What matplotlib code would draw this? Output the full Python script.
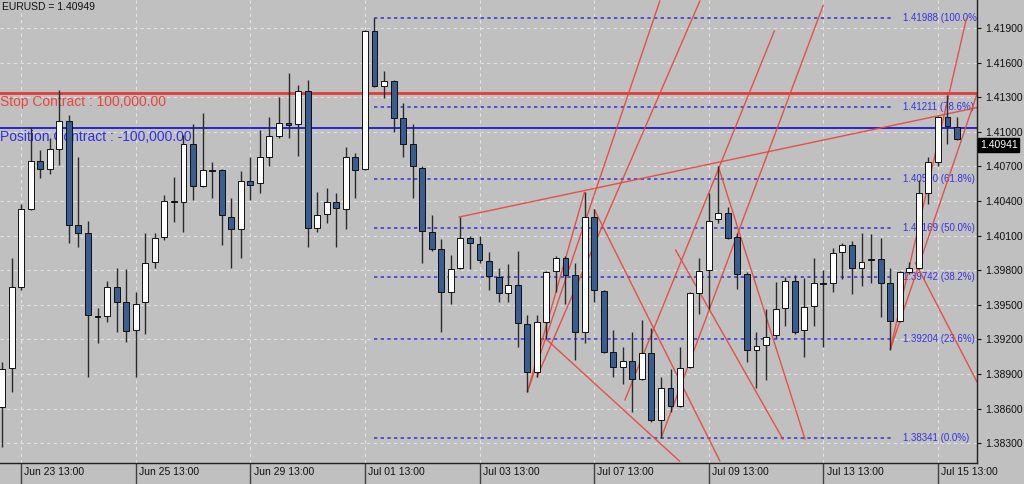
import numpy as np
import matplotlib
matplotlib.use('Agg')
import matplotlib.pyplot as plt
from matplotlib import transforms

plt.rcParams['font.family'] = ['Liberation Sans', 'DejaVu Sans']

# H4 candles (open, high, low, close)
opens = [1.3861, 1.3895, 1.3965, 1.4033, 1.4075, 1.4068, 1.4085, 1.4109, 1.4019, 1.4012,
         1.3940, 1.3940, 1.3965, 1.3952, 1.3928, 1.3952, 1.3987, 1.4009, 1.4040, 1.4039,
         1.4089, 1.4053, 1.4067, 1.4067, 1.4026, 1.4016, 1.4057, 1.4056, 1.4078, 1.4096,
         1.4108, 1.4107, 1.4135, 1.4017, 1.4029, 1.4039, 1.4033, 1.4078, 1.4068, 1.4187,
         1.4140, 1.4144, 1.4112, 1.4089, 1.4069, 1.4013, 1.3998, 1.3961, 1.3982, 1.4008,
         1.4003, 1.3988, 1.3974, 1.3960, 1.3967, 1.3933, 1.3892, 1.3935, 1.3979, 1.3991,
         1.3976, 1.3926, 1.4026, 1.3962, 1.3909, 1.3896, 1.3901, 1.3886, 1.3908, 1.3850,
         1.3878, 1.3862, 1.3896, 1.3960, 1.3980, 1.4024, 1.4030, 1.4009, 1.3977, 1.3911,
         1.3915, 1.3924, 1.3947, 1.3971, 1.3928, 1.3949, 1.3968, 1.3969, 1.3996, 1.4002,
         1.3982, 1.3990, 1.3990, 1.3969, 1.3936, 1.3978, 1.3982, 1.4047, 1.4074, 1.4113,
         1.4104]
highs = [1.3900, 1.3991, 1.4037, 1.4104, 1.4084, 1.4095, 1.4136, 1.4115, 1.4078, 1.4023,
         1.3947, 1.3971, 1.3982, 1.3981, 1.3961, 1.4012, 1.4012, 1.4045, 1.4061, 1.4097,
         1.4107, 1.4116, 1.4074, 1.4068, 1.4043, 1.4066, 1.4078, 1.4102, 1.4113, 1.4130,
         1.4151, 1.4141, 1.4145, 1.4048, 1.4051, 1.4047, 1.4087, 1.4082, 1.4188, 1.41988,
         1.4153, 1.4145, 1.4125, 1.4107, 1.4070, 1.4028, 1.4007, 1.3993, 1.4026, 1.4010,
         1.4010, 1.3996, 1.3982, 1.3985, 1.3997, 1.3941, 1.3941, 1.3979, 1.3992, 1.3992,
         1.3986, 1.4048, 1.4033, 1.3963, 1.3928, 1.3913, 1.3926, 1.3937, 1.3930, 1.3887,
         1.3894, 1.3913, 1.3961, 1.3991, 1.4047, 1.4070, 1.4035, 1.4012, 1.3978, 1.3926,
         1.3946, 1.3970, 1.3974, 1.3976, 1.3973, 1.3991, 1.3980, 1.3999, 1.4004, 1.4005,
         1.4012, 1.4011, 1.4008, 1.3982, 1.3979, 1.3987, 1.4058, 1.4078, 1.4114, 1.4132,
         1.4113]
lows = [1.3827, 1.3874, 1.3963, 1.4032, 1.4060, 1.4063, 1.4071, 1.4004, 1.4000, 1.3887,
        1.3917, 1.3935, 1.3926, 1.3918, 1.3887, 1.3925, 1.3982, 1.4006, 1.4022, 1.4013,
        1.4041, 1.4052, 1.4043, 1.4002, 1.3982, 1.3991, 1.4041, 1.4047, 1.4070, 1.4095,
        1.4095, 1.4079, 1.4000, 1.4013, 1.4021, 1.4000, 1.4016, 1.4043, 1.4067, 1.4139,
        1.4129, 1.4100, 1.4078, 1.4043, 1.3986, 1.3997, 1.3926, 1.3951, 1.3981, 1.3981,
        1.3986, 1.3963, 1.3952, 1.3952, 1.3913, 1.3874, 1.3887, 1.3920, 1.3961, 1.3951,
        1.3902, 1.3917, 1.3952, 1.3908, 1.3887, 1.3881, 1.3857, 1.3885, 1.3848, 1.38341,
        1.3857, 1.3861, 1.3895, 1.3942, 1.3946, 1.4021, 1.4007, 1.3964, 1.3900, 1.3878,
        1.3885, 1.3921, 1.3932, 1.3925, 1.3905, 1.3932, 1.3913, 1.3961, 1.3972, 1.3959,
        1.3966, 1.3969, 1.3939, 1.3911, 1.3935, 1.3977, 1.3981, 1.4037, 1.4070, 1.4089,
        1.4093]
closes = [1.3894, 1.3965, 1.4033, 1.4075, 1.4068, 1.4085, 1.4109, 1.4019, 1.4012, 1.3941,
          1.3939, 1.3965, 1.3952, 1.3927, 1.3951, 1.3986, 1.4008, 1.4040, 1.4039, 1.4089,
          1.4053, 1.4067, 1.4066, 1.4028, 1.4016, 1.4057, 1.4054, 1.4078, 1.4096, 1.4108,
          1.4106, 1.4135, 1.4017, 1.4028, 1.4039, 1.4034, 1.4078, 1.4067, 1.4187, 1.4140,
          1.4144, 1.4112, 1.4089, 1.4070, 1.4014, 1.3998, 1.3961, 1.3981, 1.4008, 1.4004,
          1.3989, 1.3975, 1.3960, 1.3967, 1.3934, 1.3892, 1.3935, 1.3978, 1.3991, 1.3976,
          1.3926, 1.4026, 1.3963, 1.3909, 1.3896, 1.3901, 1.3886, 1.3908, 1.3850, 1.3878,
          1.3862, 1.3895, 1.3960, 1.3979, 1.4023, 1.4030, 1.4008, 1.3977, 1.3911, 1.3914,
          1.3922, 1.3946, 1.3971, 1.3926, 1.3948, 1.3969, 1.3969, 1.3995, 1.4002, 1.3982,
          1.3987, 1.3989, 1.3969, 1.3936, 1.3978, 1.3982, 1.4047, 1.4074, 1.4113, 1.4105,
          1.40941]

time_labels = ['Jun 23 13:00', 'Jun 25 13:00', 'Jun 29 13:00', 'Jul 01 13:00', 'Jul 03 13:00',
               'Jul 07 13:00', 'Jul 09 13:00', 'Jul 13 13:00', 'Jul 15 13:00']
time_label_bars = [2, 14, 26, 38, 50, 62, 74, 86, 98]

price_ticks = [1.383, 1.386, 1.389, 1.392, 1.395, 1.398, 1.401, 1.404, 1.407, 1.410, 1.413, 1.416, 1.419]

stop_price = 1.41336
position_price = 1.41030
last_price = 1.40941
bid_title = 'EURUSD = 1.40949'

fib_prices = [1.41988, 1.41211, 1.40590, 1.40169, 1.39742, 1.39204, 1.38341]
fib_pcts = ['100.0%', '78.6%', '61.8%', '50.0%', '38.2%', '23.6%', '0.0%']
fib_bars = (39, 93.3)

# red trend / pitchfork lines: (bar0, price0, bar1, price1)
red_lines = [
    (47.8, 1.4026, 102.1, 1.4121),
    (55, 1.3874, 68.9, 1.4214),
    (56, 1.3887, 73.1, 1.4214),
    (55, 1.3874, 61, 1.4048),
    (57, 1.3920, 71.0, 1.3814),
    (62, 1.4033, 75.2, 1.3814),
    (65.2, 1.3867, 80.9, 1.4188),
    (69, 1.38341, 86.0, 1.4210),
    (75, 1.4070, 84.1, 1.3833),
    (70.5, 1.3998, 81.8, 1.3833),
    (93, 1.3911, 101.0, 1.4199),
    (93, 1.3911, 102.1, 1.4133),
    (95.6, 1.3987, 102.1, 1.3883),
]

bg = '#c0c0c0'
bear_col = '#3a5d8f'

fig = plt.figure(figsize=(10.24, 4.84), dpi=100, facecolor=bg)
ax = fig.add_axes([0, 21 / 484, 977 / 1024, 463 / 484])
ax.set_facecolor(bg)
ax.set_xlim(-0.21, 102.09)
ax.set_ylim(1.38128, 1.42143)

for s in ['left', 'top']:
    ax.spines[s].set_visible(False)
for s in ['right', 'bottom']:
    ax.spines[s].set_color('#202020')
    ax.spines[s].set_linewidth(1)

ax.yaxis.tick_right()
ax.set_yticks(price_ticks)
ax.set_yticklabels(['%.5f' % p for p in price_ticks])
ax.tick_params(axis='y', labelsize=7.5, length=3, pad=3, colors='#101010')
ax.set_xticks(time_label_bars)
ax.set_xticklabels([])
ax.tick_params(axis='x', length=15, width=1, color='#404040', direction='out')
ax.grid(True, color='#e2e2e2', linestyle=(0, (3, 3)), linewidth=0.8, zorder=0)
ax.set_axisbelow(True)

trans = transforms.blended_transform_factory(ax.transData, ax.transAxes)
for b, lab in zip(time_label_bars, time_labels):
    ax.text(b + 0.35, -0.02, lab, transform=trans, ha='left', va='center',
            fontsize=7.5, color='#101010', clip_on=False)

ax.text(0.002, 0.985, bid_title, transform=ax.transAxes, fontsize=7.5,
        va='center', ha='left', color='#101010')

# fibo levels
for p, pc in zip(fib_prices, fib_pcts):
    ax.hlines(p, fib_bars[0], fib_bars[1], color='#3c3cd6', lw=1.2,
              linestyle=(0, (2, 2)), zorder=2)
    ax.text(fib_bars[1] + 1.0, p, '%.5f (%s)' % (p, pc), fontsize=7, color='#3434e0',
            va='center', ha='left', clip_on=True, zorder=2)

# stop / position lines
ax.axhline(stop_price, color='#e03c3c', lw=2, zorder=2)
ax.axhline(position_price, color='#1c1cc4', lw=1.3, zorder=2)
ax.annotate('Stop Contract : 100,000.00', xy=(0, stop_price), xycoords=('axes fraction', 'data'),
            xytext=(0, -1.5), textcoords='offset points', fontsize=10, color='#e8453c',
            va='top', ha='left', zorder=1)
ax.annotate('Position Contract : -100,000.00', xy=(0, position_price),
            xycoords=('axes fraction', 'data'), xytext=(0, -1.5), textcoords='offset points',
            fontsize=10, color='#2f2fe6', va='top', ha='left', zorder=1)

for b0, p0, b1, p1 in red_lines:
    ax.plot([b0, b1], [p0, p1], color='#e8453c', lw=1, alpha=0.9, zorder=2.5,
            solid_capstyle='butt')

# candles
idx = np.arange(len(opens))
o = np.array(opens)
c = np.array(closes)
ax.vlines(idx, lows, highs, color='#2a2a2a', lw=1, zorder=3)
bottoms = np.minimum(o, c)
heights = np.maximum(np.abs(c - o), 0.00004)
cols = ['white' if cc >= oo else bear_col for oo, cc in zip(o, c)]
ax.bar(idx, heights, bottom=bottoms, width=0.62, color=cols, edgecolor='#101010',
       linewidth=0.7, zorder=4)

# last price tag on the price scale
ax.annotate('%.5f' % last_price, xy=(1.0, last_price), xycoords=('axes fraction', 'data'),
            xytext=(2, -1), textcoords='offset points', fontsize=7.5, color='white',
            va='top', ha='left', annotation_clip=False,
            bbox=dict(boxstyle='square,pad=0.15', fc='black', ec='black'))

fig.savefig('out.png', dpi=100, facecolor=bg)
